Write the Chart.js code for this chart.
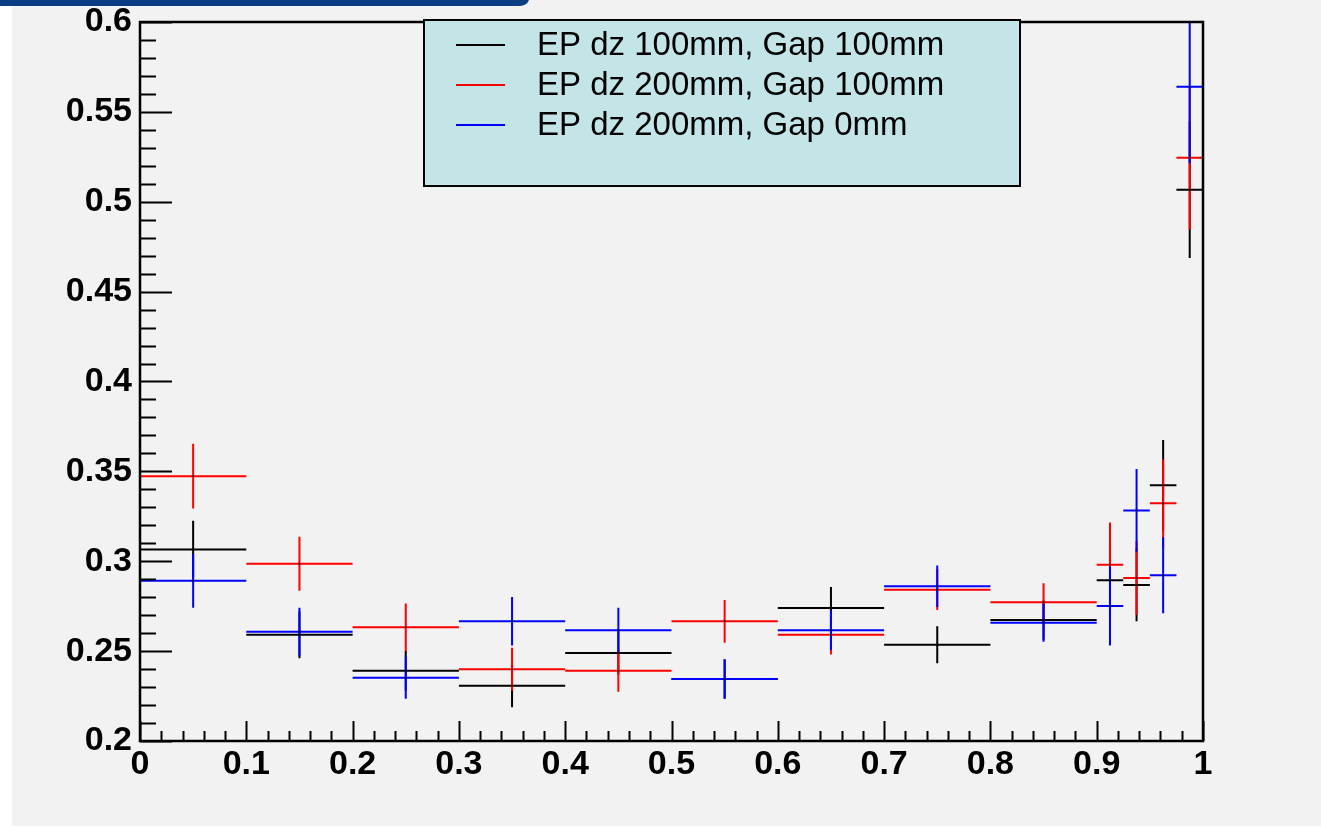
<!DOCTYPE html>
<html>
<head>
<meta charset="utf-8">
<script src="https://cdn.jsdelivr.net/npm/chart.js@4.4.0/dist/chart.umd.min.js"></script>
<style>
html, body { margin: 0; padding: 0; background: #fff; }
#wrap { width: 1321px; height: 827px; }
</style>
</head>
<body>
<div id="wrap"><canvas id="myChart" width="1321" height="827"></canvas></div>
<script>
// bins (the last four are narrow)
var binLow  = [0, 0.1, 0.2, 0.3, 0.4, 0.5, 0.6, 0.7, 0.8, 0.9, 0.925, 0.95, 0.975];
var binHigh = [0.1, 0.2, 0.3, 0.4, 0.5, 0.6, 0.7, 0.8, 0.9, 0.925, 0.95, 0.975, 1.0];

var seriesNames = ["EP dz 100mm, Gap 100mm", "EP dz 200mm, Gap 100mm", "EP dz 200mm, Gap 0mm"];
var seriesColors = ["#000000", "#ff0000", "#0000ff"];

var dz100gap100    = [0.3066, 0.2591, 0.2391, 0.2308, 0.2490, 0.2345, 0.2740, 0.2536, 0.2673, 0.2894, 0.2868, 0.3423, 0.5067];
var dz100gap100Err = [0.016, 0.013, 0.011, 0.012, 0.012, 0.011, 0.0117, 0.0103, 0.011, 0.020, 0.0202, 0.0252, 0.038];
var dz200gap100    = [0.3473, 0.2986, 0.2633, 0.2399, 0.2391, 0.2666, 0.2591, 0.2842, 0.2772, 0.2981, 0.2907, 0.3322, 0.5245];
var dz200gap100Err = [0.018, 0.015, 0.0132, 0.012, 0.0117, 0.0119, 0.011, 0.0113, 0.0106, 0.0234, 0.0206, 0.0245, 0.0398];
var dz200gap0      = [0.2892, 0.2608, 0.2352, 0.2666, 0.2616, 0.2345, 0.2616, 0.2861, 0.2658, 0.2751, 0.3283, 0.2922, 0.5640];
var dz200gap0Err   = [0.015, 0.0134, 0.0117, 0.0135, 0.0126, 0.0108, 0.011, 0.0115, 0.0106, 0.022, 0.023, 0.0211, 0.0426];

var xTicks = [0, 0.1, 0.2, 0.3, 0.4, 0.5, 0.6, 0.7, 0.8, 0.9, 1];
var yTicks = [0.2, 0.25, 0.3, 0.35, 0.4, 0.45, 0.5, 0.55, 0.6];

function makePoints(vals, errs) {
    var pts = [];
    for (var i = 0; i < vals.length; i++) {
        pts.push({ x: (binLow[i] + binHigh[i]) / 2, y: vals[i], xlo: binLow[i], xhi: binHigh[i], err: errs[i] });
    }
    return pts;
}

function fmt(v) { return String(+v.toFixed(3)); }

var tickFont = { family: "'Liberation Sans', Arial, sans-serif", size: 34, weight: 'bold' };

// page background + cut-off title bar
var background = {
    id: 'background',
    beforeDraw: function(chart) {
        var ctx = chart.ctx;
        ctx.save();
        ctx.fillStyle = '#ffffff';
        ctx.fillRect(0, 0, chart.width, chart.height);
        ctx.fillStyle = '#f2f2f2';
        ctx.fillRect(12, 0, chart.width - 12, 826);
        ctx.fillStyle = '#0b3d85';
        ctx.beginPath();
        ctx.moveTo(0, 0);
        ctx.lineTo(529, 0);
        ctx.quadraticCurveTo(527, 6, 518, 6);
        ctx.lineTo(0, 6);
        ctx.closePath();
        ctx.fill();
        ctx.restore();
    }
};

// horizontal bin-width bars + vertical error bars
var errorBars = {
    id: 'errorBars',
    beforeDatasetsDraw: function(chart) {
        var ctx = chart.ctx, xs = chart.scales.x, ys = chart.scales.y, a = chart.chartArea;
        ctx.save();
        ctx.beginPath();
        ctx.rect(a.left, a.top, a.right - a.left, a.bottom - a.top);
        ctx.clip();
        chart.data.datasets.forEach(function(ds) {
            ctx.strokeStyle = ds.borderColor;
            ctx.lineWidth = 2;
            ds.data.forEach(function(p) {
                var y = ys.getPixelForValue(p.y);
                var x = xs.getPixelForValue(p.x);
                ctx.beginPath();
                ctx.moveTo(xs.getPixelForValue(p.xlo), y);
                ctx.lineTo(xs.getPixelForValue(p.xhi), y);
                ctx.moveTo(x, ys.getPixelForValue(p.y + p.err));
                ctx.lineTo(x, ys.getPixelForValue(p.y - p.err));
                ctx.stroke();
            });
        });
        ctx.restore();
    }
};

// frame, inward ticks, legend box
var frame = {
    id: 'frame',
    afterDraw: function(chart) {
        var ctx = chart.ctx, xs = chart.scales.x, ys = chart.scales.y, a = chart.chartArea;
        ctx.save();
        ctx.strokeStyle = '#000';
        ctx.lineWidth = 2.5;
        ctx.strokeRect(a.left, a.top, a.right - a.left, a.bottom - a.top);
        ctx.lineWidth = 2;
        ctx.beginPath();
        for (var i = 20; i <= 60; i++) {
            var py = Math.round(ys.getPixelForValue(i / 100)) + 0.5;
            var len = (i % 5 === 0) ? 32 : 16;
            ctx.moveTo(a.left, py);
            ctx.lineTo(a.left + len, py);
        }
        for (var j = 0; j <= 50; j++) {
            var px = Math.round(xs.getPixelForValue(j / 50)) + 0.5;
            var l2 = (j % 5 === 0) ? 20 : 10;
            ctx.moveTo(px, a.bottom);
            ctx.lineTo(px, a.bottom - l2);
        }
        ctx.stroke();

        // legend
        var lx = 424, ly = 20, lw = 596, lh = 166;
        ctx.fillStyle = '#c4e5e7';
        ctx.fillRect(lx, ly, lw, lh);
        ctx.lineWidth = 2;
        ctx.strokeStyle = '#000';
        ctx.strokeRect(lx, ly, lw, lh);
        ctx.font = "33px 'Liberation Sans', Arial, sans-serif";
        ctx.textBaseline = 'middle';
        ctx.textAlign = 'left';
        var rowY = [45, 85, 125];
        chart.data.datasets.forEach(function(ds, k) {
            ctx.strokeStyle = ds.borderColor;
            ctx.lineWidth = 2;
            ctx.beginPath();
            ctx.moveTo(456, rowY[k]);
            ctx.lineTo(505, rowY[k]);
            ctx.stroke();
            ctx.fillStyle = '#000';
            ctx.fillText(ds.label, 537, rowY[k] + 1);
        });
        ctx.restore();
    }
};

var ctx = document.getElementById("myChart");
var datasets = [
    { label: seriesNames[0], data: makePoints(dz100gap100, dz100gap100Err), borderColor: seriesColors[0] },
    { label: seriesNames[1], data: makePoints(dz200gap100, dz200gap100Err), borderColor: seriesColors[1] },
    { label: seriesNames[2], data: makePoints(dz200gap0, dz200gap0Err), borderColor: seriesColors[2] }
];
datasets.forEach(function(ds) {
    ds.pointRadius = 1.2;
    ds.pointStyle = 'rect';
    ds.pointBackgroundColor = '#000';
    ds.pointBorderWidth = 0;
    ds.showLine = false;
});

var myChart = new Chart(ctx, {
    type: 'scatter',
    data: { datasets: datasets },
    options: {
        responsive: false,
        animation: false,
        events: [],
        layout: { padding: { top: 22, right: 118, bottom: 0, left: 0 } },
        plugins: { legend: { display: false }, tooltip: { enabled: false } },
        scales: {
            x: {
                type: 'linear', min: 0, max: 1,
                grid: { display: false, drawTicks: false },
                border: { display: false },
                afterBuildTicks: function(s) { s.ticks = xTicks.map(function(v) { return { value: v }; }); },
                afterFit: function(s) { s.height = 86; s.paddingLeft = 0; s.paddingRight = 0; },
                ticks: { font: tickFont, color: '#000', padding: 3, autoSkip: false, maxRotation: 0,
                         callback: function(v) { return fmt(v); } }
            },
            y: {
                type: 'linear', min: 0.2, max: 0.6,
                grid: { display: false, drawTicks: false },
                border: { display: false },
                afterBuildTicks: function(s) { s.ticks = yTicks.map(function(v) { return { value: v }; }); },
                afterFit: function(s) { s.width = 140; s.paddingTop = 0; s.paddingBottom = 0; },
                ticks: { font: tickFont, color: '#000', padding: 8, autoSkip: false,
                         callback: function(v) { return fmt(v); } }
            }
        }
    },
    plugins: [background, errorBars, frame]
});
</script>
</body>
</html>
